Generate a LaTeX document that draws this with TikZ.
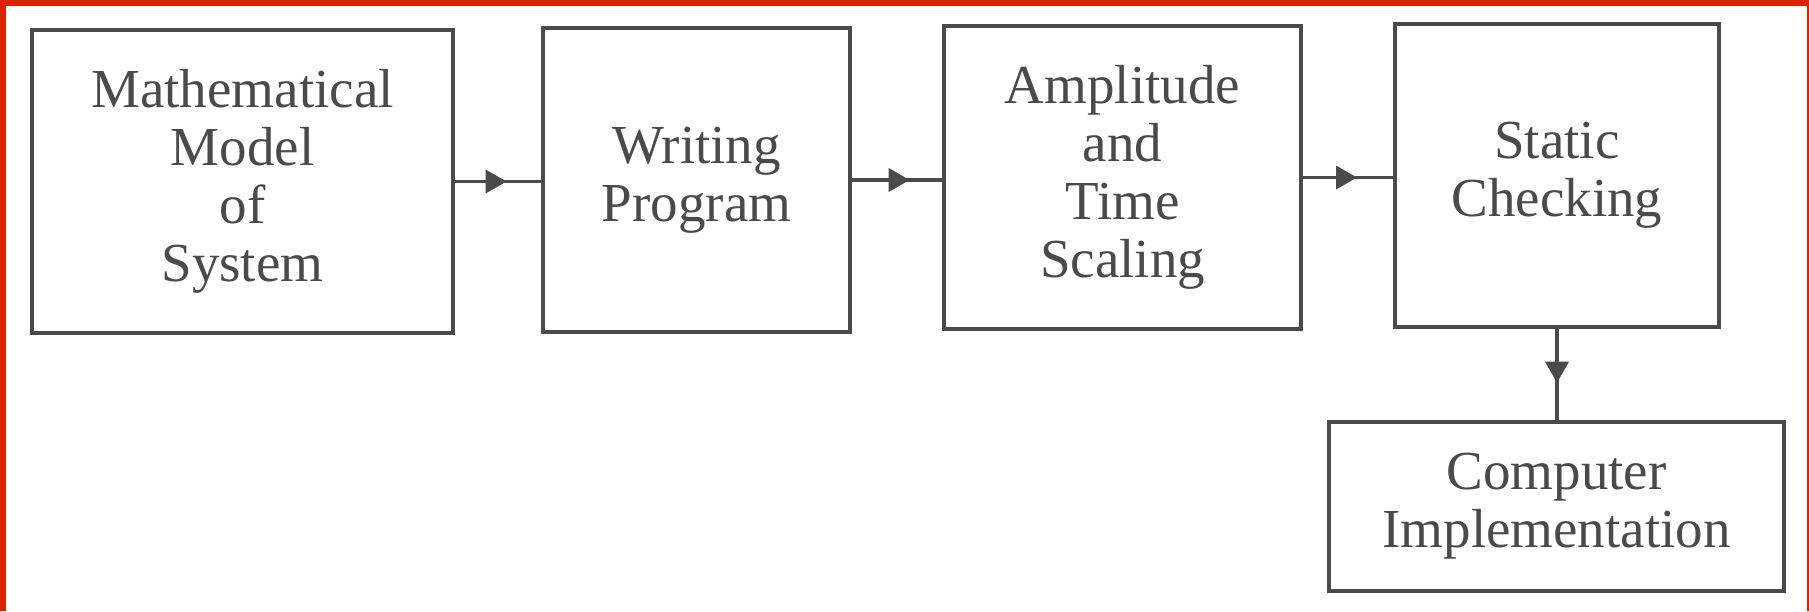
\documentclass[tikz,border=0pt]{standalone}
\usepackage{fontspec}
\setmainfont{Liberation Serif}
\usetikzlibrary{arrows.meta,decorations.markings,calc}
\definecolor{ink}{HTML}{4A4A4A}
\definecolor{frame}{HTML}{DD2200}
\tikzset{
  blk/.style={draw=ink, line width=1.8pt, text=ink, align=center, inner sep=0pt,
     font=\fontsize{27.5}{29}\selectfont},
  flow/.style={draw=ink, line width=1.8pt, postaction={decorate},
     decoration={markings, mark=at position #1 with {\arrow{Triangle[length=10.5pt,width=11.5pt]}}}},
  flow/.default=0.6
}
\begin{document}
\begin{tikzpicture}[x=0.5pt,y=-0.5pt]
\useasboundingbox (0,0) rectangle (1809,611);
\fill[white] (0,0) rectangle (1809,611);
\fill[frame] (0,0) rectangle (1809,6);
\fill[frame] (0,0) rectangle (6,611);
\fill[frame] (1807,0) rectangle (1809,611);
\node[blk, minimum width=210.5pt, minimum height=151.5pt] (m) at (242.5,181.5) {Mathematical\\Model\\of\\System};
\node[blk, minimum width=153.5pt, minimum height=152pt] (w) at (696.5,180) {Writing\\Program};
\node[blk, minimum width=178.5pt, minimum height=151.5pt] (a) at (1122.5,177.5) {Amplitude\\and\\Time\\Scaling};
\node[blk, minimum width=162pt, minimum height=151.5pt] (s) at (1557,175.5) {Static\\Checking};
\node[blk, minimum width=227.5pt, minimum height=84.5pt] (c) at (1556.5,506.5) {Computer\\Implementation};
\path[flow=0.6] (m.east) -- (m.east -| w.west);
\path[flow=0.64] (w.east) -- (w.east -| a.west);
\path[flow=0.6] (a.east) -- (a.east -| s.west);
\path[flow=0.59] (s.south) -- (s.south |- c.north);
\end{tikzpicture}
\end{document}
